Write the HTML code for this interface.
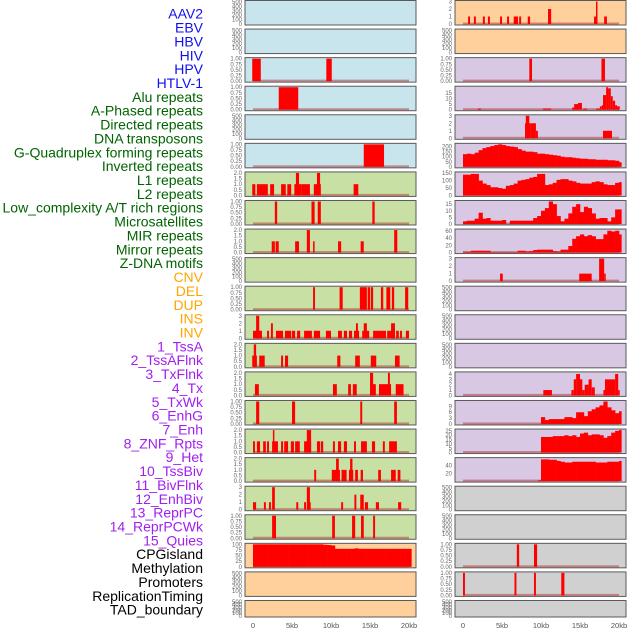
<!DOCTYPE html>
<html><head><meta charset="utf-8"><style>
html,body{margin:0;padding:0;background:#fff;}
svg{display:block;font-family:"Liberation Sans",sans-serif;}
</style></head><body>
<svg id="chart" width="630" height="630"></svg>
<script>
// ---- data ----
const trackLabels = ["AAV2","EBV","HBV","HIV","HPV","HTLV-1","Alu repeats","A-Phased repeats","Directed repeats","DNA transposons","G-Quadruplex forming repeats","Inverted repeats","L1 repeats","L2 repeats","Low_complexity A/T rich regions","Microsatellites","MIR repeats","Mirror repeats","Z-DNA motifs","CNV","DEL","DUP","INS","INV","1_TssA","2_TssAFlnk","3_TxFlnk","4_Tx","5_TxWk","6_EnhG","7_Enh","8_ZNF_Rpts","9_Het","10_TssBiv","11_BivFlnk","12_EnhBiv","13_ReprPC","14_ReprPCWk","15_Quies","CPGisland","Methylation","Promoters","ReplicationTiming","TAD_boundary"];
const labelColors = ["#1010ee","#1010ee","#1010ee","#1010ee","#1010ee","#1010ee","#006400","#006400","#006400","#006400","#006400","#006400","#006400","#006400","#006400","#006400","#006400","#006400","#006400","#ffa500","#ffa500","#ffa500","#ffa500","#ffa500","#a020f0","#a020f0","#a020f0","#a020f0","#a020f0","#a020f0","#a020f0","#a020f0","#a020f0","#a020f0","#a020f0","#a020f0","#a020f0","#a020f0","#a020f0","#000","#000","#000","#000","#000"];
const xTicks = [0,5,10,15,20];
const xTickLabels = ["0","5kb","10kb","15kb","20kb"];

const leftBg = ["#c8e4ec","#c8e4ec","#c8e4ec","#c8e4ec","#c8e4ec","#c8e4ec","#c8e0a4","#c8e0a4","#c8e0a4","#c8e0a4","#c8e0a4","#c8e0a4","#c8e0a4","#c8e0a4","#c8e0a4","#c8e0a4","#c8e0a4","#c8e0a4","#c8e0a4","#ffd09c","#ffd09c","#ffd09c"];
const rightBg = ["#ffd09c","#ffd09c","#d8c8e4","#d8c8e4","#d8c8e4","#d8c8e4","#d8c8e4","#d8c8e4","#d8c8e4","#d8c8e4","#d8c8e4","#d8c8e4","#d8c8e4","#d8c8e4","#d8c8e4","#d8c8e4","#d8c8e4","#d0d0d0","#d0d0d0","#d0d0d0","#d0d0d0","#d0d0d0"];
const leftMax = [510,510,1,1,510,1,2,1,2,510,1,3,2,2,1,2,2,3,1,100,510,510];
const rightMax = [3,510,1,20,3,222,152,17,62,3,510,510,510,4.2,11.5,26,58,510,510,1,1,510];

const bars = {};
bars.L2 = [[-0.1,1.0,1],[9.4,10.1,1]];
bars.L3 = [[3.3,5.8,1]];
bars.L5 = [[14.2,16.8,1]];
bars.L6 = [[-0.1,0.3,1],[0.5,1.9,1],[2.2,2.7,1],[3.6,4.2,1],[4.4,4.9,1],[5.3,6.2,1],[5.5,5.9,2],[6.2,7.3,1],[7.8,8.7,1],[8.2,8.6,2],[12.9,13.5,1]];
bars.L7 = [[2.8,3.1,1],[7.5,7.9,1],[8.3,8.7,1],[15.3,15.6,1]];
bars.L8 = [[2.4,2.8,1],[2.9,3.3,1],[5.4,5.9,1],[6.9,7.3,2],[7.7,7.9,1],[10.9,11.3,1],[13.8,14.2,1],[18.1,18.5,2]];
bars.L10 = [[7.7,7.95,1],[11.1,11.5,1],[13.7,14.6,1],[14.7,15,1],[15.1,15.4,1],[16.4,16.7,1],[17.1,17.6,1],[17.8,18.1,1],[19.5,19.9,1]];
bars.L11 = [[0,1.15,1],[0.4,0.8,3],[1.8,2.05,1],[2.3,2.55,2],[2.95,3.85,1],[4.1,4.9,1],[5,5.4,1],[5.65,6.05,1],[6.55,7.55,1],[7.8,8.6,1],[9.35,10,1],[10.9,11.4,1],[11.65,12.05,1],[12.3,12.7,1],[12.95,13.6,1],[13.2,13.45,2],[14,14.9,1],[14.2,14.6,2],[15.4,16.15,1],[16.15,17.05,1],[17.2,18.2,1],[17.7,18.2,2],[18.35,18.7,1],[18.85,19.1,1],[19.6,20,1]];
bars.L12 = [[-0.1,0.5,1],[0.1,0.4,2],[0.8,1.5,1],[3.6,3.85,1],[4.1,4.5,1],[10.8,11.2,1],[13.1,13.7,1],[15.1,15.8,1],[18.2,18.8,1]];
bars.L13 = [[0.25,0.75,1],[10.25,10.75,1],[12.2,12.55,1],[12.8,13.3,1],[15,15.75,1],[15,15.4,2],[16.15,17.7,1],[17.3,17.55,2],[18.3,19.3,1]];
bars.L14 = [[0.4,0.8,1],[5,5.4,1],[13.75,14,1],[18.1,18.45,1]];
bars.L15 = [[0,0.25,1],[0.5,0.9,1],[1.3,1.65,1],[1.8,2.05,1],[2.45,3.2,1],[2.55,2.7,2],[3.6,3.85,1],[4,4.5,1],[4.85,5.25,1],[5.4,6,1],[6.55,7.45,1],[6.9,7.45,2],[8.2,8.6,1],[8.7,9,1],[10.25,10.5,1],[10.9,11.3,1],[11.65,12.05,1],[12.95,13.2,1],[13.85,14.6,1],[15.25,15.65,1],[16.65,16.9,1],[17.45,18.45,1]];
bars.L16 = [[7.85,8.1,1],[10.1,11.15,1],[10.65,11,2],[11.35,12,1],[12.3,12.85,1],[12.45,12.75,2],[13.1,13.45,1],[13.8,14.1,1],[16.05,16.4,1],[17.7,18.3,1],[18.55,18.9,1]];
bars.L17 = [[0,0.4,1],[1.4,1.65,1],[2.05,2.3,1],[2.45,2.8,3],[5.55,5.8,1],[6.55,6.8,1],[6.9,7.3,3],[7,7.4,1],[11.3,11.55,1],[13,13.25,2],[13.75,14.2,2],[14.35,14.75,1],[15.75,16.15,1],[18.6,19,1]];
bars.L18 = [[2.45,2.95,1],[10.15,10.5,1],[12.7,13.1,1],[13.85,14.2,1],[15.4,15.65,1]];
bars.R0 = [[0.65,0.9,1],[1.4,1.65,1],[2.55,2.8,1],[3.2,3.45,1],[4.75,5,1],[5.65,5.9,1],[6.5,7.05,1],[7.2,7.45,1],[8.3,8.6,1],[10.9,11.3,2],[16.8,17.05,1],[17.05,17.2,3],[18.1,18.45,1]];
bars.R2 = [[8.5,8.85,1],[17.75,18.2,1]];
bars.R3 = [[1.9,2.3,1],[10.25,11.3,1],[14,14.25,2],[14.25,14.75,5],[14.75,15.25,6],[15.4,15.9,1],[17.05,17.55,1],[17.55,17.8,3],[17.8,18.1,4],[17.95,18.35,13],[18.35,18.6,20],[18.6,18.95,19],[18.95,19.2,12],[19.2,19.5,8],[19.5,19.75,4],[19.75,20.1,3]];
bars.R4 = [[7.95,8.6,2],[8.05,8.5,3],[8.6,9.35,2],[9.35,9.6,1],[17.95,19.1,1]];
bars.R9 = [[4.75,5.1,1],[14.9,16.5,1],[17.45,18.1,3],[18.1,18.3,1]];
bars.R13 = [[10.3,11.4,1],[13.9,14.2,1],[14.2,14.5,3],[14.5,15,4],[15,15.3,3],[15.3,15.6,1],[15.6,16.1,2],[16.1,16.5,3],[16.5,16.9,1.5],[18,18.2,1],[18.2,19.5,3],[19.5,19.9,4],[19.9,20.1,1]];
bars.R16 = [[9.6,10,2]];
bars.R19 = [[6.9,7.2,1],[9.1,9.5,1]];
bars.R20 = [[0,0.25,1],[6.6,6.85,1],[9.1,9.35,1],[12.6,13,1]];

// profiles (0.5kb bins)
const cpgProfile = [100,100,100,100,100,100,100,100,100,100,100,100,100,100,100,100,100,100,98,97,95,80,80,80,80,80,82,80,80,80,80,80,80,80,80,80,80,80,80,80,80];
const gquadProfile = [125,130,125,140,165,185,195,205,215,222,215,205,200,195,175,160,150,150,145,130,130,125,120,115,110,100,95,95,90,85,80,80,75,75,70,70,70,65,65,60,45];
const l1Profile = [140,140,145,145,100,80,70,55,55,50,45,65,70,80,100,105,110,120,125,145,145,70,75,85,105,110,110,100,95,85,80,80,80,90,95,90,75,70,70,85,90];
const lowComplexProfile = [2,2.5,2.5,4,8.5,4,4.5,2.5,2.5,2.5,3,0,2.5,2.5,2.5,2.5,2.5,2.5,4.5,6,10,12,17,15,6,2,4,8,13,15,9,13,12,8,4,4.5,4.5,2,5,11,11];
const mirProfile = [2,2,5,5,5,5,5,1,1,1,1,1,1,1,5,5,3,4,7,8,8,8,8,4,3,8,8,18,38,45,50,45,48,45,37,37,50,60,58,60,50];
const r14Profile = [3.5,2,2.5,2.5,2.5,2.5,3.5,3.5,3,6,6,4,6.5,7.5,8.5,9.5,11.5,8.5,7,5.5,6.5];
const r15Profile = [18,18,18,19,19,19,20,19,20,18,22,23,20,21,21,20,17,19,23,25,26];
const r16Profile = [56,56,55,55,52,50,48,48,50,50,50,50,50,50,48,48,48,50,50,50,52];
const profiles = {L19:[0,cpgProfile], R5:[0,gquadProfile], R6:[0,l1Profile], R7:[0,lowComplexProfile], R8:[0,mirProfile], R14:[10,r14Profile], R15:[10,r15Profile], R16:[10,r16Profile]};

const tickSets = {
  510:[0,100,200,300,400,500], 1:[0,0.25,0.5,0.75,1], 2:[0,0.5,1,1.5,2], 3:[0,1,2,3],
  100:[0,25,50,75,100], 20:[0,5,10,15], 222:[0,50,100,150,200], 152:[0,50,100,150],
  17:[0,5,10,15], 62:[0,20,40,60], 4.2:[0,1,2,3,4], 11.5:[0,3,6,9], 26:[0,5,10,15,20,25], 58:[20,40]
};
function fmt(m,v){ if(m===1) return v.toFixed(2); if(m===2) return v.toFixed(1); return String(v); }

// ---- drawing ----
const NS="http://www.w3.org/2000/svg";
const svg=document.getElementById('chart');
function el(tag,attrs,parent){const e=document.createElementNS(NS,tag);for(const k in attrs)e.setAttribute(k,attrs[k]);(parent||svg).appendChild(e);return e;}

trackLabels.forEach((t,i)=>{
  const e=el('text',{x:203,y:15+i*13.86,'text-anchor':'end','dominant-baseline':'middle','font-size':14,fill:labelColors[i]});
  e.textContent=t;
  
  
});

function panelGeom(i){ return i<21 ? {top:0.5+28.57*i,h:24.5} : {top:600.5,h:16.5}; }
const cols=[{key:'L',x0:245,bg:leftBg,max:leftMax},{key:'R',x0:455,bg:rightBg,max:rightMax}];
cols.forEach(c=>{
  const xs = kb => c.x0+8+kb*7.8;
  for(let i=0;i<22;i++){
    const g=el('g',{});
    
    
    const {top,h}=panelGeom(i); const bottom=top+h; const m=c.max[i];
    el('rect',{x:c.x0,y:top,width:171,height:h,fill:c.bg[i],stroke:'#5a5a5a','stroke-width':1},g);
    const ys = v => bottom-1-(v/m)*(h-2);
    (tickSets[m]||[]).forEach(tv=>{
      const t=el('text',{x:c.x0-3,y:ys(tv)+2,'text-anchor':'end','font-size':6,fill:'#666'},g);
      t.textContent=fmt(m,tv);
      
      
    });
    const key=c.key+i; const b=bars[key]; const p=profiles[key];
    if(b||p) el('rect',{x:xs(0),y:bottom-2.5,width:xs(20)-xs(0),height:2,fill:'rgba(170,30,30,0.45)'},g);
    if(p){
      const start=p[0], vals=p[1];
      vals.forEach((v,j)=>{
        const a=start+j*0.5, e2=Math.min(a+0.5,20.3);
        const r=el('rect',{x:xs(a),y:ys(v),width:xs(e2)-xs(a)+0.3,height:bottom-1-ys(v),fill:'#ff0000'},g);
        
        
      });
    }
    if(b){
      b.forEach(d=>{
        const r=el('rect',{x:xs(d[0]),y:ys(d[2]),width:Math.max(1.5,xs(d[1])-xs(d[0])),height:bottom-1-ys(d[2]),fill:'#ff0000'},g);
        
        
      });
    }
  }
  xTicks.forEach((k,j)=>{
    const t=el('text',{x:xs(k),y:628,'text-anchor':'middle','font-size':7.5,fill:'#555'});
    t.textContent=xTickLabels[j];
    
    
  });
});
</script>
</body></html>
